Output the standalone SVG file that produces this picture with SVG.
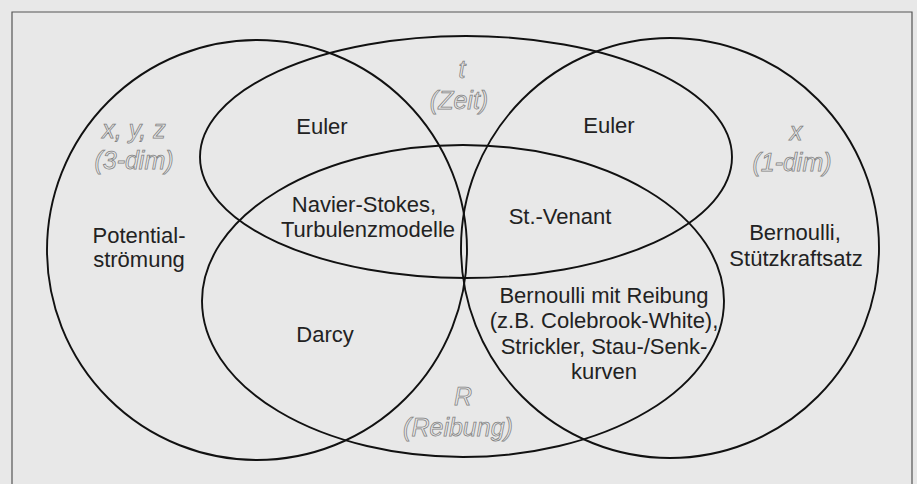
<svg xmlns="http://www.w3.org/2000/svg" width="917" height="484" viewBox="0 0 917 484">
  <style>
    .set { fill: none; stroke: #111; stroke-width: 1.9; }
    .frame { fill: none; stroke: #555; stroke-width: 1.2; }
    .lbl { font-family: "Liberation Sans", Arial, sans-serif; font-size: 22px; fill: #222; text-anchor: middle; }
    .dim { font-family: "Liberation Sans", Arial, sans-serif; font-size: 25px; font-style: italic; fill: #e8e8e8; stroke: #808080; stroke-width: 0.75; text-anchor: middle; }
  </style>
  <rect x="0" y="0" width="917" height="484" fill="#e8e8e8"/>
  <path class="frame" d="M12,490 L12,12 L912,12 L912,490"/>

  <g id="set-3dim">
    <ellipse class="set" cx="257" cy="250" rx="210" ry="210"/>
    <text class="dim" x="134" y="138">x, y, z</text>
    <text class="dim" x="134" y="169">(3-dim)</text>
  </g>
  <g id="set-zeit">
    <ellipse class="set" cx="466" cy="157" rx="266" ry="121"/>
    <text class="dim" x="462" y="78">t</text>
    <text class="dim" x="459" y="109">(Zeit)</text>
  </g>
  <g id="set-1dim">
    <ellipse class="set" cx="670" cy="248" rx="209" ry="210"/>
    <text class="dim" x="796" y="140">x</text>
    <text class="dim" x="792" y="171">(1-dim)</text>
  </g>
  <g id="set-reibung">
    <ellipse class="set" cx="463" cy="301" rx="261" ry="156"/>
    <text class="dim" x="463" y="405">R</text>
    <text class="dim" x="458" y="436">(Reibung)</text>
  </g>

  <g id="euler-left"><text class="lbl" x="322" y="134">Euler</text></g>
  <g id="euler-right"><text class="lbl" x="609" y="133">Euler</text></g>
  <g id="navier-stokes">
    <text class="lbl" x="364" y="212">Navier-Stokes,</text>
    <text class="lbl" x="368" y="237">Turbulenzmodelle</text>
  </g>
  <g id="st-venant"><text class="lbl" x="560" y="224">St.-Venant</text></g>
  <g id="potential">
    <text class="lbl" x="139" y="243">Potential-</text>
    <text class="lbl" x="139" y="267">strömung</text>
  </g>
  <g id="bernoulli">
    <text class="lbl" x="795" y="240">Bernoulli,</text>
    <text class="lbl" x="796" y="266">Stützkraftsatz</text>
  </g>
  <g id="darcy"><text class="lbl" x="325" y="342">Darcy</text></g>
  <g id="bernoulli-reibung">
    <text class="lbl" x="604" y="303">Bernoulli mit Reibung</text>
    <text class="lbl" x="604" y="328">(z.B. Colebrook-White),</text>
    <text class="lbl" x="604" y="354">Strickler, Stau-/Senk-</text>
    <text class="lbl" x="604" y="379">kurven</text>
  </g>
</svg>
